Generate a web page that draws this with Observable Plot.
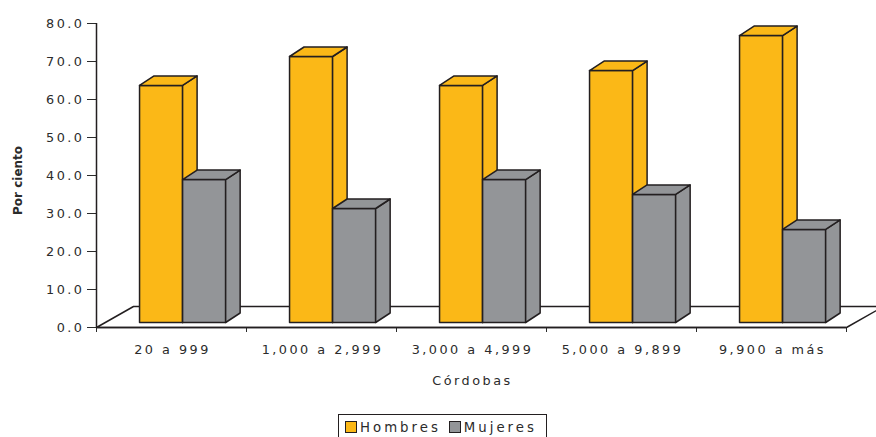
<!DOCTYPE html>
<html>
<head>
<meta charset="utf-8">
<script src="https://cdn.jsdelivr.net/npm/d3@7"></script>
<script src="https://cdn.jsdelivr.net/npm/@observablehq/plot@0.6"></script>
<style>
  html, body { margin: 0; padding: 0; background: #fff; overflow: hidden; }
  #wrap { position: relative; width: 876px; height: 437px; }
  #legend {
    position: absolute; left: 338px; top: 414px; width: 209px; height: 26px;
    border: 1.5px solid #231f20; box-sizing: border-box; background: #fff;
    font-family: "DejaVu Sans", sans-serif; font-size: 13.3px; letter-spacing: 3px; color: #2b2b2b;
    display: flex; align-items: center; padding-left: 6px;
  }
  #legend .sw { display: inline-block; width: 10px; height: 10px; border: 1.2px solid #231f20; margin-right: 3px; }
  #legend .item { display: flex; align-items: center; margin-right: 8px; }
</style>
</head>
<body>
<div id="wrap"></div>
<script>
// ---- data ----
const categories = ["20 a 999", "1,000 a 2,999", "3,000 a 4,999", "5,000 a 9,899", "9,900 a más"];
const series = ["Hombres", "Mujeres"];
const hombres = [62.4, 70.0, 62.4, 66.3, 75.5];
const mujeres = [37.6, 30.0, 37.6, 33.7, 24.5];
const yTicks = [0, 10, 20, 30, 40, 50, 60, 70, 80];
const colors = ["#fbb817", "#939598"];

// ---- geometry (code constants, in data units) ----
const BAR_X0 = 0.287, BAR_W = 0.287;     // bar offset / width within a category band
const DX = 14.5 / 150, DY = 9.5 / 3.8;    // bar depth
const BASE = 5 / 3.8;                     // bar front sits slightly back on the floor
const FX = 37 / 150, FY = 21 / 3.8;       // floor depth
const INK = "#231f20";

function faces(values, si) {
  const pts = [];
  values.forEach((v, i) => {
    const x0 = i + BAR_X0 + si * BAR_W, x1 = x0 + BAR_W, y0 = BASE, y1 = BASE + v;
    const polys = {
      front: [[x0, y0], [x1, y0], [x1, y1], [x0, y1], [x0, y0]],
      side: [[x1, y0], [x1 + DX, y0 + DY], [x1 + DX, y1 + DY], [x1, y1], [x1, y0]],
      top: [[x0, y1], [x1, y1], [x1 + DX, y1 + DY], [x0 + DX, y1 + DY], [x0, y1]]
    };
    for (const [k, poly] of Object.entries(polys))
      poly.forEach(([x, y]) => pts.push({id: `${si}-${i}-${k}`, x, y}));
  });
  return pts;
}

const n = categories.length;
const floor = [[0, 0], [n, 0], [n + FX, FY], [FX, FY], [0, 0]].map(([x, y]) => ({id: "floor", x, y}));

const chart = Plot.plot({
  width: 876,
  height: 410,
  marginLeft: 96,
  marginRight: 30,
  marginTop: 23,
  marginBottom: 83,
  style: {fontFamily: "DejaVu Sans, sans-serif", fontSize: "12.8px", letterSpacing: "2.5px", color: "#2b2b2b", background: "#fff"},
  x: {domain: [0, n], ticks: d3.range(n + 1), tickFormat: () => "", tickSize: 5, label: null},
  y: {domain: [0, 80], ticks: yTicks, tickFormat: d => d.toFixed(1), tickSize: 9, tickPadding: 3, label: null},
  marks: [
    Plot.line(floor, {x: "x", y: "y", z: "id", fill: "#fff", stroke: INK, strokeWidth: 1.5, strokeLinejoin: "miter"}),
    Plot.line(faces(hombres, 0), {x: "x", y: "y", z: "id", fill: colors[0], stroke: INK, strokeWidth: 1.5, strokeLinejoin: "round"}),
    Plot.line(faces(mujeres, 1), {x: "x", y: "y", z: "id", fill: colors[1], stroke: INK, strokeWidth: 1.5, strokeLinejoin: "round"}),
    Plot.ruleX([0], {y1: 0, y2: 80, stroke: INK, strokeWidth: 1.5}),
    Plot.ruleY([0], {x1: 0, x2: n, stroke: INK, strokeWidth: 1.5}),
    Plot.text(categories, {x: (d, i) => i + 0.5, y: 0, dy: 22, dx: 1, text: d => d, fill: "#2b2b2b"}),
    Plot.text(["Córdobas"], {x: n / 2, y: 0, dy: 53, dx: 1, text: d => d, fill: "#2b2b2b"}),
    Plot.text(["Por ciento"], {x: 0, y: 38.7, dx: -78, rotate: -90, text: d => d, fontWeight: "bold", fontSize: 12, fill: "#2b2b2b"})
  ]
});

d3.select(chart).selectAll("text")
  .filter(function () { return this.textContent === "Por ciento"; })
  .style("letter-spacing", "0px");

const wrap = document.getElementById("wrap");
wrap.appendChild(chart);

const legend = document.createElement("div");
legend.id = "legend";
series.forEach((s, i) => {
  const item = document.createElement("span");
  item.className = "item";
  const sw = document.createElement("span");
  sw.className = "sw";
  sw.style.background = colors[i];
  item.appendChild(sw);
  item.appendChild(document.createTextNode(s));
  legend.appendChild(item);
});
wrap.appendChild(legend);
</script>
</body>
</html>
